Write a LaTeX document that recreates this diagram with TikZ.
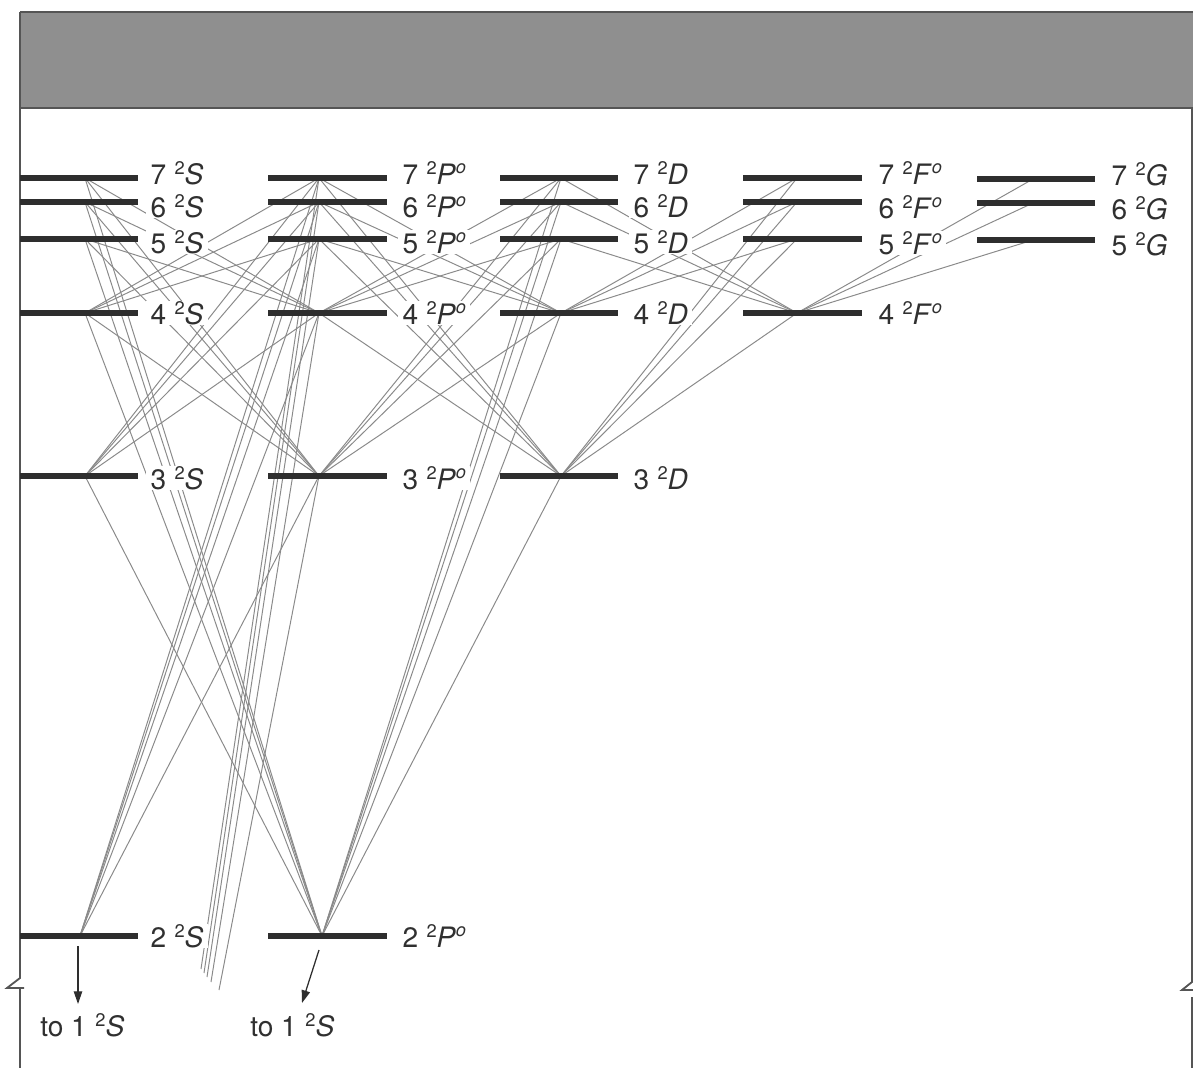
\documentclass[tikz,border=0pt]{standalone}
\usepackage{fontspec}
\setmainfont{TeX Gyre Heros}
\usetikzlibrary{arrows.meta}
\definecolor{barcol}{HTML}{2E2E2E}
\definecolor{transcol}{HTML}{8A8A8A}
\definecolor{textcol}{HTML}{303030}
\definecolor{headfill}{HTML}{8F8F8F}
\definecolor{framecol}{HTML}{555555}
% spectroscopic term: n, multiplicity 2, letter, optional odd-parity mark
\newcommand\mult{\raisebox{6.6pt}{\fontsize{13}{13}\selectfont 2}}
\newcommand\trm[3]{#1\hspace{0.3em}\mult\textit{#2}#3}
\newcommand\odd{\raisebox{7.4pt}{\fontsize{13}{13}\selectfont\itshape o}}
\begin{document}
\begin{tikzpicture}[x=0.025cm,y=-0.025cm,
  level/.style={line width=3.6pt,draw=barcol},
  trans/.style={line width=0.7pt,draw=transcol},
  lbl/.style={anchor=base west,fill=white,inner xsep=3pt,inner ysep=0.5pt,
    text=textcol,font=\fontsize{20}{22}\selectfont},
  frame/.style={line width=1.3pt,draw=framecol},
  down/.style={line width=0.9pt,draw=barcol,-{Triangle[length=9pt,width=6pt]}}]
\useasboundingbox (0,0) rectangle (1193,1068);

% header band
\fill[headfill] (20,12) rectangle (1193,108);
\draw[frame] (20,12) -- (1193,12);
\draw[frame] (20,108) -- (1193,108);

% outer frame with break marks
\draw[frame] (20,12) -- (20,978) -- (7,988) -- (24,988);
\draw[frame] (20,988) -- (20,1068);
\draw[frame] (1192,108) -- (1192,982) -- (1182,990) -- (1193,990);
\draw[frame] (1192,997) -- (1192,1068);

% transition points on each term column
\foreach \n/\y in {7/178,6/202,5/239,4/313,3/476}{
  \coordinate (S\n) at (85,\y);
  \coordinate (P\n) at (319,\y);
}
\coordinate (S2) at (80,936);
\coordinate (P2) at (322,936);
\foreach \n/\y in {7/178,6/202,5/239,4/313,3/476}
  \coordinate (D\n) at (561,\y);
\foreach \n/\y in {7/178,6/202,5/239,4/313}
  \coordinate (F\n) at (797,\y);
\foreach \n/\y in {7/179,6/203,5/240}
  \coordinate (G\n) at (1033,\y);

% ends of the lines running down to the ground term
\coordinate (e7) at (201,969);
\coordinate (e6) at (204,973);
\coordinate (e5) at (207,977);
\coordinate (e4) at (211,982);
\coordinate (e3) at (219,990);

% S -- P transitions
\foreach \a/\b in {S2/P3,S2/P4,S2/P5,S2/P6,S2/P7,
                   S3/P2,S3/P4,S3/P5,S3/P6,S3/P7,
                   S4/P2,S4/P3,S4/P5,S4/P6,S4/P7,
                   S5/P2,S5/P3,S5/P4,
                   S6/P2,S6/P3,S6/P4,
                   S7/P2,S7/P3,S7/P4}
  \draw[trans] (\a) -- (\b);
% P -- D transitions
\foreach \a/\b in {P2/D3,P2/D4,P2/D5,P2/D6,P2/D7,
                   P3/D4,P3/D5,P3/D6,P3/D7,
                   P4/D3,P4/D5,P4/D6,P4/D7,
                   P5/D3,P5/D4,P6/D3,P6/D4,P7/D3,P7/D4}
  \draw[trans] (\a) -- (\b);
% D -- F transitions
\foreach \a/\b in {D3/F4,D3/F5,D3/F6,D3/F7,
                   D4/F5,D4/F6,D4/F7,
                   D5/F4,D6/F4,D7/F4}
  \draw[trans] (\a) -- (\b);
% F -- G transitions
\foreach \a/\b in {F4/G5,F4/G6,F4/G7}
  \draw[trans] (\a) -- (\b);
% P -- 1S transitions, cut at the break
\foreach \n in {3,4,5,6,7}
  \draw[trans] (P\n) -- (e\n);

% energy levels
\foreach \y in {178,202,239,313,476,936}{
  \draw[level] (20,\y) -- (138,\y);
  \draw[level] (268,\y) -- (387,\y);
}
\foreach \y in {178,202,239,313,476}
  \draw[level] (500,\y) -- (618,\y);
\foreach \y in {178,202,239,313}
  \draw[level] (743,\y) -- (862,\y);
\foreach \y in {179,203,240}
  \draw[level] (977,\y) -- (1095,\y);

% term labels (baselines staggered so that close levels stay readable)
\foreach \n/\b in {2/947,3/489,4/324,5/253,6/217,7/184}{
  \node[lbl] (lS\n) at (146,\b) {\trm{\n}{S}{}};
  \node[lbl] (lP\n) at (398,\b) {\trm{\n}{P}{\odd}};
}
\foreach \n/\b in {3/489,4/324,5/253,6/217,7/184}
  \node[lbl] (lD\n) at (629,\b) {\trm{\n}{D}{}};
\foreach \n/\b in {4/324,5/254,6/218,7/184}
  \node[lbl] (lF\n) at (874,\b) {\trm{\n}{F}{\odd}};
\foreach \n/\b in {5/255,6/219,7/185}
  \node[lbl] (lG\n) at (1107,\b) {\trm{\n}{G}{}};

% decays to the ground term
\coordinate (aS) at (78,946);
\coordinate (aSe) at (78,1004);
\coordinate (aP) at (319,950);
\coordinate (aPe) at (302,1003);
\draw[down] (aS) -- (aSe);
\draw[down] (aP) -- (aPe);
\node[lbl,fill=none,inner xsep=0pt] (gS1) at (40,1036) {to 1\hspace{0.3em}\mult\textit{S}};
\node[lbl,fill=none,inner xsep=0pt] (gS2) at (250,1036) {to 1\hspace{0.3em}\mult\textit{S}};
\end{tikzpicture}
\end{document}
